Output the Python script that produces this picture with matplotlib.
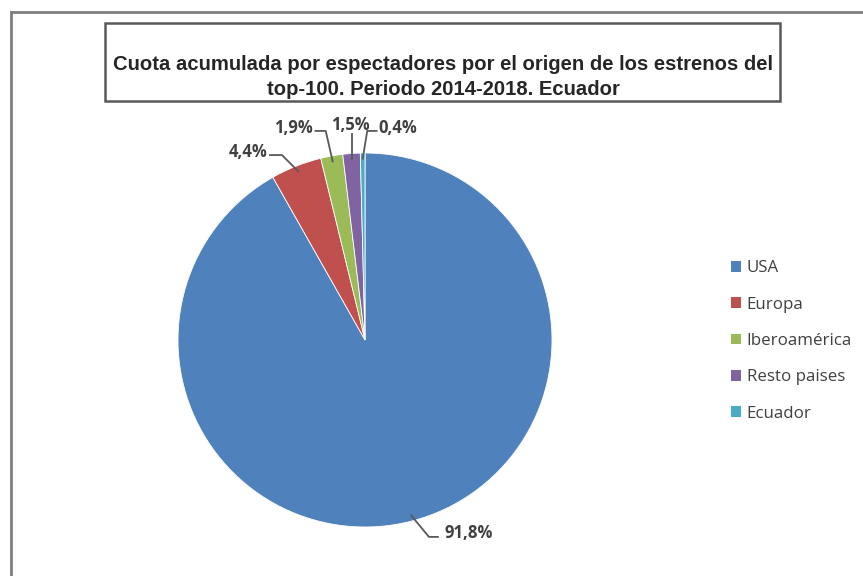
import matplotlib.pyplot as plt
import numpy as np
from matplotlib.patches import Rectangle
from matplotlib.lines import Line2D

# data
categorias = ['USA', 'Europa', 'Iberoamérica', 'Resto paises', 'Ecuador']
cuota = [91.8, 4.4, 1.9, 1.5, 0.4]
etiquetas = ['91,8%', '4,4%', '1,9%', '1,5%', '0,4%']
colores = ['#4F81BD', '#C0504D', '#9BBB59', '#8064A2', '#4BACC6']

titulo = ('Cuota acumulada por espectadores por el origen de los estrenos del\n'
          'top-100. Periodo 2014-2018. Ecuador')

W, H = 863, 576
fig = plt.figure(figsize=(W / 100, H / 100), dpi=100)
fig.patch.set_facecolor('white')

# outer chart frame (only top and left visible)
fig.add_artist(Line2D([11 / W, 1], [1 - 12 / H, 1 - 12 / H], color='#7f7f7f', lw=2))
fig.add_artist(Line2D([11 / W, 11 / W], [0, 1 - 12 / H], color='#7f7f7f', lw=2))

# title box
fig.add_artist(Rectangle((105 / W, 1 - 101 / H), 675 / W, 78 / H, transform=fig.transFigure,
                         facecolor='white', edgecolor='#595959', lw=1.8))
fig.text(443 / W, 1 - 77 / H, titulo, ha='center', va='center', fontsize=14.6,
         fontweight='bold', family='Liberation Sans', color='#262626', linespacing=1.4)

# pie axes
cx, cy, r = 365, 340, 187
ax = fig.add_axes([(cx - r) / W, (H - cy - r) / H, 2 * r / W, 2 * r / H])
wedges, _ = ax.pie(cuota, colors=colores, startangle=90, counterclock=False,
                   wedgeprops=dict(edgecolor='white', linewidth=0.6))
ax.set_xlim(-1, 1)
ax.set_ylim(-1, 1)
ax.set_aspect('auto')
ax.axis('off')

# label positions (data units) and leader anchors near the label
pos_txt = [(0.556, -1.032), (-0.626, 1.005), (-0.385, 1.134), (-0.080, 1.150), (0.176, 1.134)]
lado = [(0.390, -1.053), (-0.508, 0.989), (-0.265, 1.118), (None, 1.10), (0.062, 1.118)]
codo = [(0.342, -1.053), (-0.444, 0.989), (-0.210, 1.118), (None, 1.10), (0.012, 1.118)]

for w, et, (tx, ty), (lx, ly), (ex, ey) in zip(wedges, etiquetas, pos_txt, lado, codo):
    ang = np.deg2rad((w.theta1 + w.theta2) / 2)
    px, py = 0.97 * np.cos(ang), 0.97 * np.sin(ang)
    if lx is None:
        lx = ex = px
    ax.plot([lx, ex, px], [ly, ey, py], color='#595959', lw=1.3, clip_on=False)
    ax.text(tx, ty, et, ha='center', va='center', fontsize=12, fontweight='bold',
            family='Open Sans', color='#404040', clip_on=False)

# legend
handles = [Rectangle((0, 0), 1, 1, facecolor=c, edgecolor='none') for c in colores]
leg = fig.legend(handles, categorias, loc='center left', bbox_to_anchor=(716 / W, 1 - 341 / H),
                 frameon=False, handlelength=0.6, handleheight=0.6, handletextpad=0.3,
                 labelspacing=1.2, prop=dict(family='Open Sans', size=12.2))
for t in leg.get_texts():
    t.set_color('#404040')

fig.savefig('out.png', dpi=100)
